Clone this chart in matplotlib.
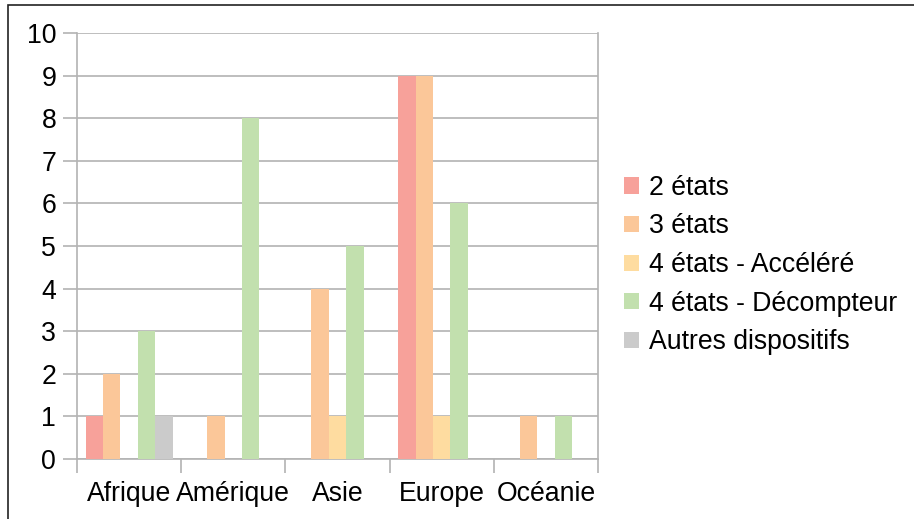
import numpy as np
import matplotlib.pyplot as plt
from matplotlib.patches import Rectangle

plt.rcParams['font.family'] = ['Liberation Sans', 'DejaVu Sans']

categories = ['Afrique', 'Amérique', 'Asie', 'Europe', 'Océanie']
series_names = ['2 états', '3 états', '4 états - Accéléré',
                '4 états - Décompteur', 'Autres dispositifs']
values_2_etats = [1, 0, 0, 9, 0]
values_3_etats = [2, 1, 4, 9, 1]
values_4_accel = [0, 0, 1, 1, 0]
values_4_decompte = [3, 8, 5, 6, 1]
values_autres = [1, 0, 0, 0, 0]
colors = ['#f7a19a', '#fbc799', '#fedca0', '#c2e0ae', '#cbcbcb']

all_values = [values_2_etats, values_3_etats, values_4_accel,
              values_4_decompte, values_autres]

W, H = 914, 519
fs = 19.2
fig = plt.figure(figsize=(W / 100, H / 100), dpi=100)
ax = fig.add_axes([77 / W, 1 - 459 / H, (598 - 77) / W, (459 - 33) / H])

x = np.arange(len(categories))
bw = 1 / 6
for i, (name, vals) in enumerate(zip(series_names, all_values)):
    ax.bar(x - 0.5 + bw * (i + 0.5) + bw / 2, vals, width=bw,
           color=colors[i], label=name, zorder=3)

grid_c = '#b3b3b3'
ax.set_xlim(-0.5, len(categories) - 0.5)
ax.set_ylim(0, 10)
ax.set_yticks(range(0, 11))
ax.yaxis.grid(True, color=grid_c, linewidth=1.2, zorder=0)
ax.set_xticks(np.arange(len(categories) + 1) - 0.5)
ax.set_xticklabels([])
ax.set_xticks(x, minor=True)
ax.set_xticklabels(categories, minor=True)
ax.tick_params(axis='x', which='minor', length=0, pad=15.5, labelsize=fs)
ax.tick_params(axis='x', which='major', length=10, color=grid_c, width=1.2)
ax.tick_params(axis='y', length=10, color=grid_c, width=1.2, labelsize=fs, pad=5)
for s in ['left', 'bottom', 'right']:
    ax.spines[s].set_color(grid_c)
    ax.spines[s].set_linewidth(1.2)
ax.spines['top'].set_visible(False)

ax.legend(loc='center left', bbox_to_anchor=(624 / W, 1 - 265 / H),
          bbox_transform=fig.transFigure, frameon=False, fontsize=fs,
          handlelength=0.55, handleheight=0.55, handletextpad=0.38,
          labelspacing=0.47, borderaxespad=0, borderpad=0)

fig.patches.append(Rectangle((8 / W, -0.1), 1.2, 1 - 5 / H + 0.1,
                             transform=fig.transFigure, fill=False,
                             edgecolor='#222222', linewidth=1.2))

fig.savefig('out.png', dpi=100)
